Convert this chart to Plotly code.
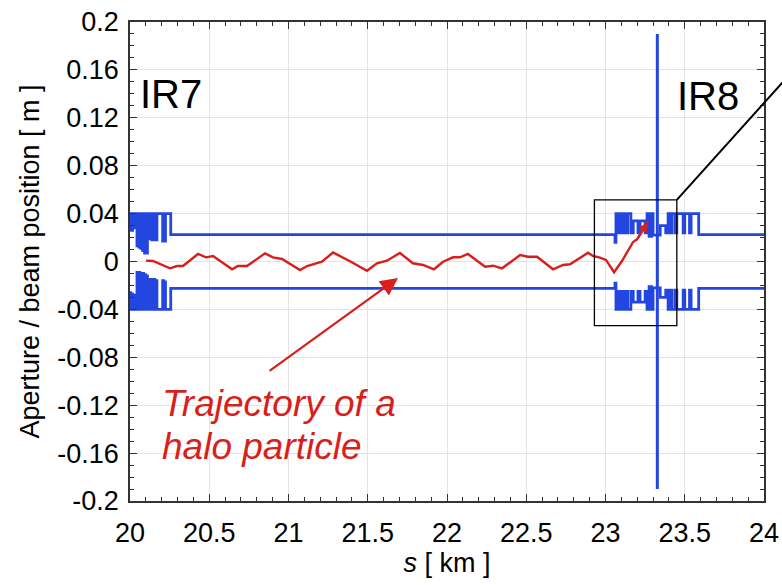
import plotly.graph_objects as go

# ---------------- data ----------------
x_ticks = [20, 20.5, 21, 21.5, 22, 22.5, 23, 23.5, 24]
x_ticktext = ["20", "20.5", "21", "21.5", "22", "22.5", "23", "23.5", "24"]
y_ticks = [-0.2, -0.16, -0.12, -0.08, -0.04, 0, 0.04, 0.08, 0.12, 0.16, 0.2]
y_ticktext = ["-0.2", "-0.16", "-0.12", "-0.08", "-0.04", "0", "0.04", "0.08", "0.12", "0.16", "0.2"]

# upper aperture (step-wise, value holds from s to next s)
ap_up_s = [20.000, 20.004, 20.010, 20.016, 20.022, 20.030, 20.044, 20.050, 20.056, 20.062,
           20.068, 20.074, 20.080, 20.086, 20.092, 20.098, 20.104, 20.110, 20.126, 20.132,
           20.138, 20.144, 20.150, 20.156, 20.162, 20.170, 20.206, 20.212, 20.218, 20.224,
           20.257,
           23.060, 23.066, 23.075, 23.082, 23.092, 23.100, 23.110, 23.118, 23.130, 23.140,
           23.160, 23.175, 23.205, 23.218, 23.250, 23.262, 23.275, 23.290, 23.300, 23.345,
           23.380, 23.395, 23.410, 23.420, 23.440, 23.450, 23.490, 23.500, 23.530, 23.540,
           23.588, 24.000]
ap_up_y = [0.026, 0.040, 0.026, 0.040, 0.028, 0.040, 0.013, 0.040, 0.012, 0.040,
           0.011, 0.040, 0.009, 0.040, 0.007, 0.040, 0.007, 0.040, 0.019, 0.040,
           0.018, 0.040, 0.019, 0.040, 0.018, 0.040, 0.017, 0.040, 0.017, 0.040,
           0.0225,
           0.016, 0.040, 0.024, 0.040, 0.024, 0.040, 0.024, 0.040, 0.024, 0.040,
           0.024, 0.034, 0.024, 0.034, 0.024, 0.040, 0.021, 0.040, 0.022, 0.030,
           0.024, 0.040, 0.024, 0.040, 0.024, 0.040, 0.024, 0.040, 0.024, 0.040,
           0.0225, 0.0225]

# lower aperture
ap_lo_s = [20.000, 20.004, 20.010, 20.016, 20.022, 20.030, 20.044, 20.050, 20.056, 20.062,
           20.068, 20.074, 20.080, 20.086, 20.092, 20.098, 20.104, 20.110, 20.126, 20.132,
           20.138, 20.144, 20.150, 20.156, 20.162, 20.170, 20.206, 20.212, 20.218, 20.224,
           20.257,
           23.060, 23.066, 23.075, 23.082, 23.092, 23.100, 23.110, 23.118, 23.130, 23.140,
           23.160, 23.175, 23.205, 23.218, 23.250, 23.262, 23.275, 23.290, 23.300, 23.345,
           23.380, 23.395, 23.410, 23.420, 23.440, 23.450, 23.490, 23.500, 23.530, 23.540,
           23.588, 24.000]
ap_lo_y = [-0.026, -0.040, -0.027, -0.040, -0.028, -0.040, -0.009, -0.040, -0.009, -0.040,
           -0.010, -0.040, -0.010, -0.040, -0.011, -0.040, -0.012, -0.040, -0.015, -0.040,
           -0.016, -0.040, -0.015, -0.040, -0.016, -0.040, -0.016, -0.040, -0.017, -0.040,
           -0.0225,
           -0.018, -0.040, -0.025, -0.040, -0.025, -0.040, -0.025, -0.040, -0.025, -0.040,
           -0.025, -0.034, -0.025, -0.034, -0.025, -0.040, -0.021, -0.040, -0.022, -0.030,
           -0.024, -0.040, -0.024, -0.040, -0.024, -0.040, -0.024, -0.040, -0.024, -0.040,
           -0.0225, -0.0225]

# IR8 aperture spike
spike_s = [23.327, 23.327]
spike_y = [-0.190, 0.190]

# halo particle trajectory
traj_s = [20.101, 20.145, 20.252, 20.297, 20.334, 20.429, 20.479, 20.524, 20.644, 20.681,
          20.738, 20.852, 20.902, 20.959, 21.073, 21.117, 21.211, 21.281, 21.394, 21.495,
          21.558, 21.621, 21.703, 21.785, 21.849, 21.918, 21.975, 22.038, 22.082, 22.132,
          22.240, 22.290, 22.347, 22.461, 22.511, 22.568, 22.669, 22.732, 22.776, 22.890,
          22.921, 22.965, 23.003, 23.054, 23.104, 23.136, 23.174, 23.199, 23.268]
traj_y = [0.0007, 0.0004, -0.0057, -0.0038, -0.0038, 0.0063, 0.0035, 0.0046, -0.0065, -0.0038,
          -0.0038, 0.0068, 0.0035, 0.0021, -0.0071, -0.0038, -0.0002, 0.0075, -0.0002, -0.0077,
          -0.0015, 0.0007, 0.0071, -0.0015, -0.0029, -0.0065, -0.0002, 0.0035, 0.0035, 0.0063,
          -0.0044, -0.0035, -0.0057, 0.0054, 0.0040, 0.0040, -0.0065, -0.0029, -0.0023, 0.0073,
          0.0046, 0.0033, 0.0013, -0.0090, 0.0004, 0.0079, 0.0163, 0.0185, 0.0330]

# IR8 zoom box [s0, s1, y0, y1]
box_s = [22.93, 23.45]
box_y = [-0.0536, 0.0514]

X_RANGE = [20, 24]
Y_RANGE = [-0.2, 0.2]

BLUE = "#2446e0"
RED = "#d81f1c"
FONT = "Liberation Sans, Arial, sans-serif"

fig = go.Figure()
fig.add_trace(go.Scatter(x=ap_up_s, y=ap_up_y, mode="lines", line=dict(color=BLUE, width=2.8, shape="hv"),
                         showlegend=False))
fig.add_trace(go.Scatter(x=ap_lo_s, y=ap_lo_y, mode="lines", line=dict(color=BLUE, width=2.8, shape="hv"),
                         showlegend=False))
fig.add_trace(go.Scatter(x=spike_s, y=spike_y, mode="lines", line=dict(color=BLUE, width=3),
                         showlegend=False))
fig.add_trace(go.Scatter(x=traj_s, y=traj_y, mode="lines", line=dict(color=RED, width=2.4),
                         showlegend=False))

# zoom box and leader line
fig.add_shape(type="rect", x0=box_s[0], x1=box_s[1], y0=box_y[0], y1=box_y[1],
              xref="x", yref="y", line=dict(color="black", width=1.3))
px0 = (box_s[1] - X_RANGE[0]) / (X_RANGE[1] - X_RANGE[0])
py0 = (box_y[1] - Y_RANGE[0]) / (Y_RANGE[1] - Y_RANGE[0])
fig.add_shape(type="line", xref="paper", yref="paper", x0=px0, y0=py0, x1=1.03, y1=0.875,
              line=dict(color="black", width=2))

# arrows
fig.add_annotation(x=21.691, y=-0.0138, ax=20.871, ay=-0.0923, xref="x", yref="y",
                   axref="x", ayref="y", text="", showarrow=True, arrowhead=2,
                   arrowsize=1.6, arrowwidth=2.2, arrowcolor=RED)
fig.add_annotation(x=traj_s[-1], y=traj_y[-1], ax=traj_s[-2], ay=traj_y[-2], xref="x", yref="y",
                   axref="x", ayref="y", text="", showarrow=True, arrowhead=2,
                   arrowsize=1.0, arrowwidth=2, arrowcolor=RED)

# texts
fig.add_annotation(text="IR7", xref="paper", yref="paper", x=0.012, y=0.85, xanchor="left",
                   yanchor="middle", showarrow=False,
                   font=dict(family=FONT, size=40, color="black"))
fig.add_annotation(text="IR8", xref="paper", yref="paper", x=0.86, y=0.845, xanchor="left",
                   yanchor="middle", showarrow=False,
                   font=dict(family=FONT, size=40, color="black"))
fig.add_annotation(text="<i>Trajectory of a</i>", xref="paper", yref="paper", x=0.048, y=0.2035,
                   xanchor="left", yanchor="middle", showarrow=False,
                   font=dict(family=FONT, size=37, color=RED))
fig.add_annotation(text="<i>halo particle</i>", xref="paper", yref="paper", x=0.048, y=0.114,
                   xanchor="left", yanchor="middle", showarrow=False,
                   font=dict(family=FONT, size=37, color=RED))

tickfont = dict(family=FONT, size=27, color="black")
fig.update_xaxes(range=X_RANGE, tickvals=x_ticks, ticktext=x_ticktext, tickfont=tickfont,
                 ticks="inside", ticklen=7, tickwidth=1.2, tickcolor="#333",
                 minor=dict(dtick=0.1, ticks="inside", ticklen=4, tickcolor="#333", showgrid=False),
                 showline=True, linecolor="#333", linewidth=1.5, mirror="ticks",
                 showgrid=True, gridcolor="#e4e4e4", gridwidth=1, zeroline=False,
                 ticklabelstandoff=7,
                 title=dict(text="<i>s</i> [ km ]", standoff=0,
                            font=dict(family=FONT, size=27, color="black")))
fig.update_yaxes(range=Y_RANGE, tickvals=y_ticks, ticktext=y_ticktext, tickfont=tickfont,
                 ticks="inside", ticklen=7, tickwidth=1.2, tickcolor="#333",
                 minor=dict(dtick=0.01, ticks="inside", ticklen=4, tickcolor="#333", showgrid=False),
                 showline=True, linecolor="#333", linewidth=1.5, mirror="ticks",
                 showgrid=True, gridcolor="#e4e4e4", gridwidth=1, zeroline=False,
                 ticklabelstandoff=4,
                 title=dict(text="Aperture / beam position [ m ]", standoff=10,
                            font=dict(family=FONT, size=27, color="black")))

fig.update_layout(width=782, height=585, margin=dict(l=130, r=18, t=22, b=84, autoexpand=False),
                  paper_bgcolor="white", plot_bgcolor="white", showlegend=False)

fig.write_html("out.html", config={"displayModeBar": False})

# remove the default page margin so the figure sits at the window's top-left corner
with open("out.html", "r", encoding="utf-8") as f:
    html = f.read()
html = html.replace("<head>", "<head><style>html,body{margin:0;padding:0;}</style>", 1)
with open("out.html", "w", encoding="utf-8") as f:
    f.write(html)
